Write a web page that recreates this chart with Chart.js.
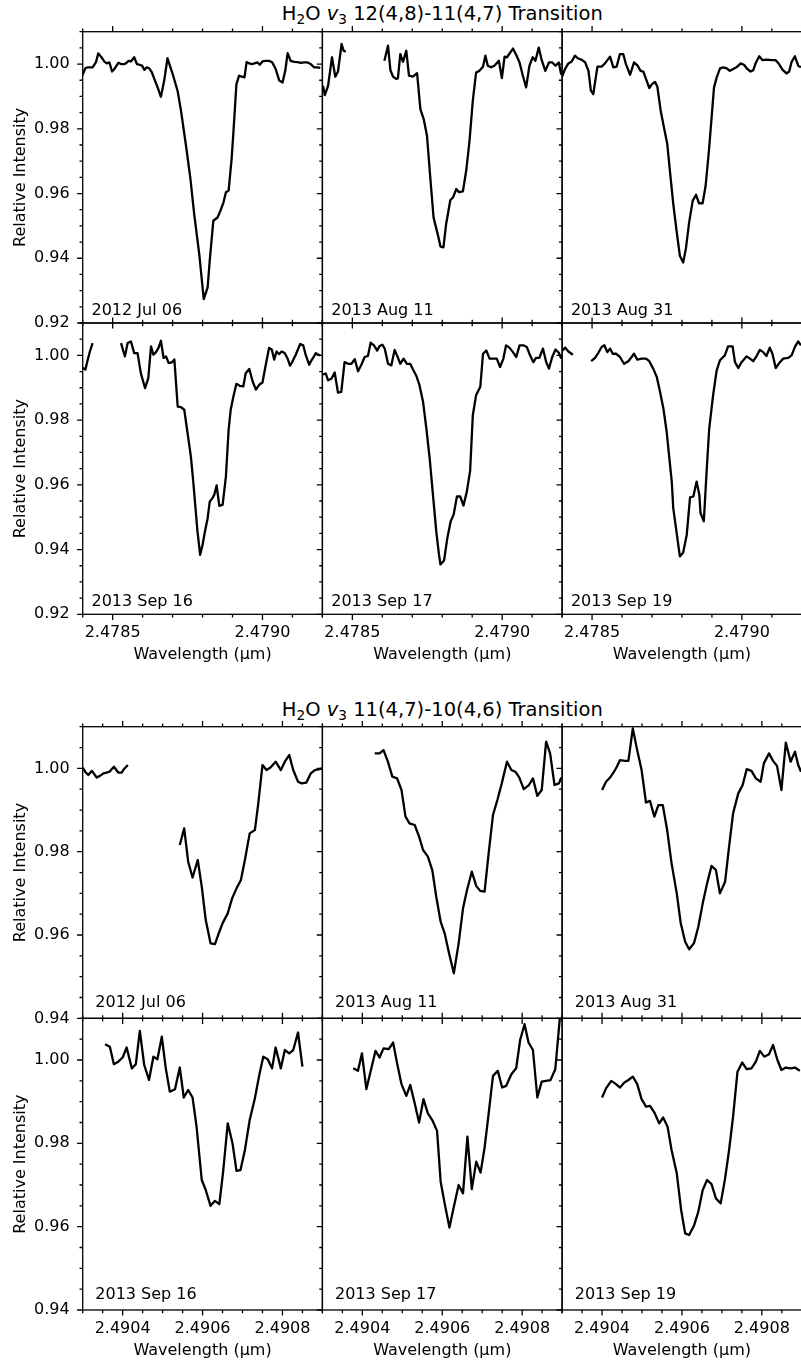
<!DOCTYPE html>
<html><head><meta charset="utf-8">
<script src="https://cdn.jsdelivr.net/npm/chart.js@4.4.0/dist/chart.umd.min.js"></script>
<style>
html,body{margin:0;padding:0;background:#fff;}
#wrap{position:relative;width:801px;height:1362px;overflow:hidden;background:#fff;}
#wrap canvas{position:absolute;}
.ttl{position:absolute;left:442.3px;transform:translateX(-50%);font-family:'DejaVu Sans';font-size:19.5px;line-height:19.5px;color:#000;white-space:nowrap;}
.ttl sub{font-size:70%;line-height:0;vertical-align:-0.3em;}
</style></head><body><div id="wrap">
<div class="ttl" style="top:4.2px">H<sub>2</sub>O <i>v</i><sub>3</sub> 12(4,8)-11(4,7) Transition</div>
<div class="ttl" style="top:699.5px">H<sub>2</sub>O <i>v</i><sub>3</sub> 11(4,7)-10(4,6) Transition</div>
</div>
<script>
// ---------------- DATA: [wavelength (µm), relative intensity] ----------------
const dates = ['2012 Jul 06','2013 Aug 11','2013 Aug 31','2013 Sep 16','2013 Sep 17','2013 Sep 19'];

// H2O v3 12(4,8)-11(4,7)
const t1 = [[2.478398,0.9964],[2.478409,0.9987],[2.478417,0.9990],[2.478433,0.9990],[2.478444,1.0005],[2.478452,1.0033],[2.478461,1.0023],[2.478472,1.0008],[2.478480,1.0002],[2.478489,1.0005],[2.478498,0.9977],[2.478506,0.9985],[2.478519,1.0004],[2.478528,1.0000],[2.478539,1.0000],[2.478544,1.0002],[2.478553,1.0010],[2.478561,1.0008],[2.478572,1.0021],[2.478581,1.0000],[2.478589,0.9998],[2.478598,0.9995],[2.478606,0.9982],[2.478614,0.9990],[2.478622,0.9987],[2.478631,0.9974],[2.478639,0.9954],[2.478650,0.9928],[2.478661,0.9899],[2.478672,0.9949],[2.478683,1.0018],[2.478691,0.9995],[2.478702,0.9964],[2.478717,0.9916],[2.478728,0.9856],[2.478744,0.9753],[2.478759,0.9650],[2.478772,0.9537],[2.478789,0.9413],[2.478804,0.9274],[2.478817,0.9310],[2.478824,0.9393],[2.478836,0.9516],[2.478850,0.9526],[2.478861,0.9550],[2.478870,0.9573],[2.478878,0.9604],[2.478887,0.9609],[2.478897,0.9707],[2.478903,0.9789],[2.478913,0.9938],[2.478922,0.9964],[2.478931,0.9961],[2.478940,0.9959],[2.478947,1.0006],[2.478956,1.0002],[2.478964,1.0000],[2.478973,1.0002],[2.478983,1.0005],[2.478991,0.9998],[2.479000,1.0008],[2.479011,1.0010],[2.479022,1.0010],[2.479033,1.0005],[2.479044,0.9985],[2.479056,0.9949],[2.479067,0.9943],[2.479076,0.9979],[2.479084,1.0034],[2.479094,1.0010],[2.479106,1.0007],[2.479117,1.0006],[2.479128,1.0004],[2.479139,1.0005],[2.479150,1.0005],[2.479161,1.0000],[2.479172,0.9990],[2.479183,0.9990],[2.479193,0.9988]];
const t2a = [[2.478402,0.9933],[2.478408,0.9904],[2.478419,0.9933],[2.478432,1.0021],[2.478443,0.9961],[2.478452,0.9977],[2.478464,1.0062],[2.478471,1.0041],[2.478478,1.0038]];
const t2b = [[2.478607,1.0010],[2.478619,1.0057],[2.478627,0.9981],[2.478636,0.9961],[2.478647,0.9954],[2.478652,0.9956],[2.478660,1.0031],[2.478669,1.0007],[2.478680,1.0041],[2.478689,0.9964],[2.478702,0.9961],[2.478716,0.9972],[2.478727,0.9861],[2.478738,0.9830],[2.478749,0.9779],[2.478760,0.9650],[2.478771,0.9526],[2.478786,0.9470],[2.478794,0.9436],[2.478804,0.9434],[2.478813,0.9506],[2.478827,0.9580],[2.478836,0.9588],[2.478847,0.9614],[2.478856,0.9604],[2.478869,0.9607],[2.478880,0.9671],[2.478891,0.9763],[2.478902,0.9887],[2.478913,0.9974],[2.478924,0.9979],[2.478936,0.9992],[2.478944,1.0026],[2.478952,0.9995],[2.478963,0.9990],[2.478974,0.9995],[2.478989,1.0010],[2.478999,0.9957],[2.479008,1.0023],[2.479016,1.0021],[2.479036,1.0048],[2.479047,1.0028],[2.479058,1.0005],[2.479069,0.9964],[2.479080,0.9928],[2.479091,0.9995],[2.479102,1.0021],[2.479111,1.0010],[2.479122,1.0051],[2.479132,1.0012],[2.479144,0.9979],[2.479156,1.0005],[2.479167,1.0005],[2.479178,0.9995],[2.479189,1.0005],[2.479197,0.9967]];
const t3 = [[2.478400,0.9961],[2.478410,0.9985],[2.478421,1.0002],[2.478432,1.0008],[2.478443,1.0026],[2.478452,1.0018],[2.478466,1.0013],[2.478477,1.0005],[2.478488,0.9979],[2.478496,0.9918],[2.478504,0.9907],[2.478518,0.9992],[2.478532,0.9992],[2.478543,1.0002],[2.478560,1.0023],[2.478571,0.9990],[2.478582,0.9992],[2.478593,1.0031],[2.478604,1.0031],[2.478613,1.0000],[2.478627,0.9967],[2.478640,1.0005],[2.478652,0.9995],[2.478662,0.9979],[2.478671,0.9977],[2.478680,0.9954],[2.478691,0.9926],[2.478700,0.9938],[2.478710,0.9945],[2.478718,0.9930],[2.478729,0.9856],[2.478740,0.9804],[2.478751,0.9753],[2.478762,0.9650],[2.478771,0.9568],[2.478782,0.9485],[2.478793,0.9408],[2.478804,0.9387],[2.478813,0.9429],[2.478824,0.9511],[2.478836,0.9578],[2.478847,0.9596],[2.478857,0.9570],[2.478869,0.9570],[2.478879,0.9624],[2.478890,0.9732],[2.478899,0.9835],[2.478907,0.9928],[2.478916,0.9959],[2.478927,0.9987],[2.478938,0.9990],[2.478949,0.9987],[2.478960,0.9979],[2.478971,0.9985],[2.478982,0.9990],[2.478996,1.0002],[2.479007,0.9998],[2.479018,0.9985],[2.479029,0.9977],[2.479038,0.9981],[2.479047,1.0005],[2.479058,1.0024],[2.479069,1.0012],[2.479082,1.0014],[2.479099,1.0012],[2.479113,1.0012],[2.479124,1.0000],[2.479136,0.9982],[2.479149,0.9971],[2.479158,0.9977],[2.479166,1.0007],[2.479177,1.0024],[2.479188,0.9995],[2.479197,0.9990]];
const t4a = [[2.478400,0.9961],[2.478409,0.9956],[2.478417,0.9987],[2.478424,1.0012],[2.478433,1.0038]];
const t4b = [[2.478528,1.0038],[2.478536,1.0012],[2.478541,0.9997],[2.478550,1.0038],[2.478561,1.0043],[2.478572,1.0007],[2.478583,1.0007],[2.478594,0.9945],[2.478608,0.9899],[2.478619,0.9930],[2.478628,1.0028],[2.478636,1.0002],[2.478644,1.0009],[2.478653,1.0023],[2.478661,1.0045],[2.478670,0.9992],[2.478678,0.9997],[2.478687,0.9976],[2.478697,0.9978],[2.478706,0.9987],[2.478717,0.9842],[2.478728,0.9840],[2.478739,0.9832],[2.478750,0.9760],[2.478761,0.9688],[2.478769,0.9610],[2.478776,0.9533],[2.478783,0.9456],[2.478792,0.9384],[2.478800,0.9414],[2.478808,0.9456],[2.478817,0.9497],[2.478824,0.9548],[2.478833,0.9559],[2.478839,0.9569],[2.478847,0.9598],[2.478856,0.9535],[2.478867,0.9538],[2.478878,0.9626],[2.478887,0.9770],[2.478894,0.9832],[2.478903,0.9873],[2.478913,0.9912],[2.478924,0.9906],[2.478936,0.9904],[2.478944,0.9945],[2.478956,0.9958],[2.478967,0.9920],[2.478978,0.9894],[2.478989,0.9909],[2.479000,0.9916],[2.479011,0.9971],[2.479022,1.0023],[2.479031,1.0018],[2.479039,0.9987],[2.479047,1.0012],[2.479056,1.0004],[2.479064,1.0012],[2.479074,1.0007],[2.479083,0.9992],[2.479092,0.9968],[2.479100,0.9981],[2.479111,1.0002],[2.479126,1.0035],[2.479136,1.0031],[2.479144,1.0002],[2.479156,0.9971],[2.479163,0.9984],[2.479172,0.9997],[2.479178,1.0007],[2.479186,1.0002],[2.479193,1.0000]];
const t5 = [[2.478402,0.9941],[2.478411,0.9944],[2.478419,0.9923],[2.478430,0.9928],[2.478441,0.9947],[2.478452,0.9885],[2.478463,0.9887],[2.478474,0.9979],[2.478486,0.9974],[2.478497,0.9974],[2.478508,0.9988],[2.478519,0.9951],[2.478530,0.9971],[2.478541,0.9995],[2.478552,0.9998],[2.478561,1.0039],[2.478572,1.0031],[2.478583,1.0015],[2.478591,1.0029],[2.478600,1.0033],[2.478608,1.0021],[2.478619,0.9974],[2.478630,0.9969],[2.478641,1.0017],[2.478649,1.0000],[2.478660,0.9974],[2.478671,0.9990],[2.478682,0.9974],[2.478693,0.9974],[2.478702,0.9957],[2.478713,0.9938],[2.478724,0.9908],[2.478736,0.9856],[2.478747,0.9774],[2.478758,0.9682],[2.478769,0.9569],[2.478780,0.9456],[2.478789,0.9385],[2.478794,0.9354],[2.478806,0.9366],[2.478817,0.9436],[2.478828,0.9487],[2.478838,0.9508],[2.478849,0.9564],[2.478860,0.9564],[2.478871,0.9536],[2.478882,0.9579],[2.478893,0.9643],[2.478902,0.9815],[2.478913,0.9877],[2.478927,0.9903],[2.478936,1.0005],[2.478947,1.0015],[2.478958,0.9990],[2.478971,0.9990],[2.478982,0.9990],[2.478993,0.9964],[2.479004,0.9990],[2.479013,1.0031],[2.479024,1.0024],[2.479036,1.0010],[2.479047,0.9995],[2.479058,1.0031],[2.479071,1.0031],[2.479082,1.0026],[2.479093,1.0000],[2.479104,0.9979],[2.479113,0.9992],[2.479124,0.9992],[2.479136,1.0021],[2.479147,0.9979],[2.479156,0.9959],[2.479167,0.9995],[2.479178,1.0018],[2.479189,1.0008],[2.479197,0.9990]];
const t6a = [[2.478402,1.0015],[2.478410,1.0024],[2.478421,1.0012],[2.478436,1.0002]];
const t6b = [[2.478497,0.9982],[2.478510,0.9992],[2.478521,1.0008],[2.478532,1.0026],[2.478541,1.0031],[2.478551,1.0010],[2.478560,1.0021],[2.478569,1.0005],[2.478580,1.0005],[2.478593,0.9995],[2.478607,0.9974],[2.478621,0.9982],[2.478632,0.9995],[2.478640,1.0005],[2.478651,0.9987],[2.478666,0.9990],[2.478680,0.9990],[2.478691,0.9982],[2.478704,0.9959],[2.478716,0.9933],[2.478727,0.9887],[2.478738,0.9836],[2.478749,0.9764],[2.478758,0.9682],[2.478766,0.9610],[2.478771,0.9528],[2.478780,0.9467],[2.478793,0.9379],[2.478804,0.9390],[2.478816,0.9446],[2.478827,0.9561],[2.478838,0.9564],[2.478849,0.9610],[2.478858,0.9569],[2.478862,0.9513],[2.478873,0.9487],[2.478882,0.9636],[2.478891,0.9774],[2.478904,0.9877],[2.478916,0.9954],[2.478927,0.9985],[2.478943,1.0000],[2.478954,1.0028],[2.478969,1.0028],[2.478977,0.9979],[2.478988,0.9961],[2.478999,0.9979],[2.479016,0.9997],[2.479027,0.9990],[2.479038,0.9982],[2.479049,0.9998],[2.479060,1.0017],[2.479071,1.0010],[2.479082,0.9998],[2.479093,1.0024],[2.479102,1.0005],[2.479113,0.9961],[2.479127,0.9979],[2.479138,0.9990],[2.479154,0.9992],[2.479166,1.0000],[2.479177,1.0026],[2.479188,1.0043],[2.479197,1.0031]];

// H2O v3 11(4,7)-10(4,6)
const b1a = [[2.490300,1.0002],[2.490306,0.9992],[2.490314,0.9984],[2.490323,0.9994],[2.490335,0.9978],[2.490343,0.9982],[2.490352,0.9988],[2.490360,0.9990],[2.490367,0.9992],[2.490378,1.0004],[2.490389,0.9990],[2.490398,0.9990],[2.490403,0.9998],[2.490413,1.0008]];
const b1b = [[2.490543,0.9816],[2.490554,0.9856],[2.490564,0.9776],[2.490575,0.9738],[2.490588,0.9780],[2.490598,0.9716],[2.490608,0.9636],[2.490620,0.9580],[2.490631,0.9578],[2.490639,0.9600],[2.490650,0.9628],[2.490663,0.9652],[2.490674,0.9688],[2.490685,0.9712],[2.490696,0.9732],[2.490706,0.9780],[2.490718,0.9844],[2.490731,0.9852],[2.490739,0.9912],[2.490750,1.0008],[2.490760,0.9996],[2.490770,1.0002],[2.490783,1.0016],[2.490796,0.9996],[2.490806,1.0016],[2.490817,1.0032],[2.490827,0.9996],[2.490839,0.9968],[2.490848,0.9964],[2.490860,0.9966],[2.490871,0.9988],[2.490881,0.9996],[2.490893,0.9998],[2.490899,1.0000]];
const b2 = [[2.490431,1.0036],[2.490443,1.0036],[2.490453,1.0044],[2.490464,1.0016],[2.490475,0.9980],[2.490487,0.9976],[2.490498,0.9948],[2.490508,0.9884],[2.490518,0.9868],[2.490531,0.9864],[2.490542,0.9836],[2.490552,0.9804],[2.490564,0.9788],[2.490575,0.9756],[2.490585,0.9692],[2.490596,0.9632],[2.490606,0.9604],[2.490617,0.9556],[2.490629,0.9508],[2.490641,0.9580],[2.490652,0.9664],[2.490662,0.9708],[2.490674,0.9752],[2.490685,0.9718],[2.490695,0.9706],[2.490706,0.9704],[2.490717,0.9804],[2.490727,0.9888],[2.490738,0.9924],[2.490749,0.9964],[2.490762,1.0016],[2.490773,0.9996],[2.490783,0.9992],[2.490793,0.9978],[2.490804,0.9950],[2.490817,0.9960],[2.490827,0.9976],[2.490838,0.9934],[2.490849,0.9948],[2.490860,1.0064],[2.490870,1.0036],[2.490881,0.9960],[2.490892,0.9964],[2.490898,0.9978]];
const b3 = [[2.490400,0.9948],[2.490410,0.9968],[2.490420,0.9978],[2.490430,0.9992],[2.490437,1.0004],[2.490445,1.0020],[2.490458,1.0018],[2.490466,1.0018],[2.490477,1.0096],[2.490487,1.0048],[2.490499,0.9996],[2.490510,0.9918],[2.490520,0.9922],[2.490531,0.9884],[2.490541,0.9912],[2.490552,0.9912],[2.490563,0.9852],[2.490574,0.9772],[2.490587,0.9700],[2.490597,0.9628],[2.490608,0.9584],[2.490618,0.9566],[2.490630,0.9580],[2.490641,0.9620],[2.490652,0.9676],[2.490663,0.9724],[2.490674,0.9766],[2.490685,0.9756],[2.490695,0.9700],[2.490708,0.9728],[2.490718,0.9812],[2.490728,0.9892],[2.490741,0.9940],[2.490752,0.9960],[2.490762,0.9998],[2.490774,0.9994],[2.490785,0.9976],[2.490797,0.9968],[2.490805,1.0012],[2.490818,1.0036],[2.490828,1.0018],[2.490838,1.0006],[2.490849,0.9948],[2.490860,1.0062],[2.490872,1.0016],[2.490883,1.0040],[2.490891,1.0008],[2.490898,0.9992]];
const b4 = [[2.490356,1.0038],[2.490368,1.0032],[2.490378,0.9990],[2.490389,0.9996],[2.490400,1.0006],[2.490410,1.0030],[2.490423,0.9980],[2.490433,0.9990],[2.490443,1.0070],[2.490454,0.9988],[2.490466,0.9952],[2.490477,1.0008],[2.490487,1.0002],[2.490498,1.0056],[2.490508,0.9980],[2.490518,0.9924],[2.490531,0.9930],[2.490543,0.9982],[2.490553,0.9910],[2.490564,0.9928],[2.490575,0.9910],[2.490585,0.9840],[2.490598,0.9712],[2.490608,0.9688],[2.490620,0.9650],[2.490631,0.9662],[2.490642,0.9654],[2.490652,0.9736],[2.490663,0.9848],[2.490675,0.9800],[2.490685,0.9734],[2.490695,0.9736],[2.490706,0.9784],[2.490718,0.9856],[2.490731,0.9908],[2.490742,0.9964],[2.490752,1.0008],[2.490763,1.0002],[2.490774,0.9980],[2.490783,1.0030],[2.490796,0.9980],[2.490806,1.0024],[2.490817,1.0016],[2.490827,1.0024],[2.490839,1.0066],[2.490850,0.9984]];
const b5 = [[2.490377,0.9980],[2.490389,0.9974],[2.490399,1.0016],[2.490410,0.9930],[2.490421,0.9974],[2.490433,1.0022],[2.490443,1.0006],[2.490453,1.0028],[2.490466,1.0026],[2.490477,1.0042],[2.490487,0.9992],[2.490498,0.9942],[2.490510,0.9914],[2.490520,0.9940],[2.490531,0.9896],[2.490542,0.9850],[2.490553,0.9906],[2.490564,0.9872],[2.490575,0.9856],[2.490587,0.9830],[2.490596,0.9708],[2.490606,0.9656],[2.490618,0.9598],[2.490629,0.9648],[2.490641,0.9700],[2.490652,0.9680],[2.490663,0.9816],[2.490674,0.9690],[2.490685,0.9756],[2.490696,0.9730],[2.490706,0.9790],[2.490716,0.9870],[2.490727,0.9962],[2.490739,0.9974],[2.490750,0.9934],[2.490760,0.9938],[2.490773,0.9966],[2.490785,0.9980],[2.490795,1.0048],[2.490806,1.0086],[2.490816,1.0042],[2.490827,1.0024],[2.490838,0.9910],[2.490849,0.9948],[2.490860,0.9950],[2.490871,0.9952],[2.490883,0.9978],[2.490895,1.0108]];
const b6 = [[2.490400,0.9910],[2.490410,0.9932],[2.490423,0.9950],[2.490435,0.9942],[2.490445,0.9934],[2.490456,0.9946],[2.490466,0.9952],[2.490477,0.9960],[2.490488,0.9942],[2.490499,0.9906],[2.490510,0.9888],[2.490520,0.9890],[2.490531,0.9874],[2.490543,0.9848],[2.490553,0.9862],[2.490564,0.9840],[2.490574,0.9784],[2.490587,0.9728],[2.490598,0.9640],[2.490608,0.9584],[2.490618,0.9580],[2.490630,0.9602],[2.490641,0.9636],[2.490652,0.9688],[2.490663,0.9712],[2.490674,0.9702],[2.490685,0.9668],[2.490697,0.9656],[2.490708,0.9716],[2.490718,0.9784],[2.490728,0.9864],[2.490739,0.9972],[2.490751,0.9994],[2.490762,0.9978],[2.490774,0.9980],[2.490785,0.9996],[2.490795,1.0022],[2.490806,1.0008],[2.490818,1.0014],[2.490828,1.0036],[2.490839,1.0000],[2.490849,0.9976],[2.490860,0.9982],[2.490872,0.9980],[2.490883,0.9982],[2.490895,0.9974]];

const topSeries = [[t1],[t2a,t2b],[t3],[t4a,t4b],[t5],[t6a,t6b]];
const botSeries = [[b1a,b1b],[b2],[b3],[b4],[b5],[b6]];

// axis ranges & tick values
const topX = [2.4784, 2.4792], topY = [0.92, 1.01];
const botX = [2.4903, 2.4909], botY = [0.94, 1.01];
const topXMajor = [2.4785, 2.4790];
const topXMinor = [2.4784, 2.4786, 2.4787, 2.4788, 2.4789, 2.4791, 2.4792];
const topYMajor = [0.92, 0.94, 0.96, 0.98, 1.00];
const topYMinor = [0.925, 0.93, 0.935, 0.945, 0.95, 0.955, 0.965, 0.97, 0.975, 0.985, 0.99, 0.995, 1.005, 1.01];
const botXMajor = [2.4904, 2.4906, 2.4908];
const botXMinor = [2.4903, 2.49035, 2.49045, 2.4905, 2.49055, 2.49065, 2.4907, 2.49075, 2.49085, 2.4909];
const botYMajor = [0.94, 0.96, 0.98, 1.00];
const botYMinor = [0.945, 0.95, 0.955, 0.965, 0.97, 0.975, 0.985, 0.99, 0.995, 1.005, 1.01];

// ---------------- LAYOUT ----------------
const colLeft = [82.7, 322.4, 562.1];
const plotW = 239.7;
const FONT = 'DejaVu Sans';

const decor = {
  id: 'decor',
  afterDraw(chart, args, o) {
    const {ctx, chartArea: a} = chart;
    const x = chart.scales.x, y = chart.scales.y;
    ctx.save();
    ctx.strokeStyle = '#000';
    ctx.lineWidth = 1.3;
    ctx.beginPath();
    const xt = (vals, len) => vals.forEach(v => {
      const p = x.getPixelForValue(v);
      ctx.moveTo(p, a.bottom); ctx.lineTo(p, a.bottom + len);
      ctx.moveTo(p, a.top); ctx.lineTo(p, a.top - len);
    });
    const yt = (vals, len) => vals.forEach(v => {
      const p = y.getPixelForValue(v);
      ctx.moveTo(a.left, p); ctx.lineTo(a.left - len, p);
    });
    xt(o.xMinor, 3.2); xt(o.xMajor, 5.6);
    yt(o.yMinor, 3.2); yt(o.yMajor, 5.6);
    ctx.stroke();
    ctx.strokeRect(a.left, a.top, a.right - a.left, a.bottom - a.top);
    ctx.fillStyle = '#000';
    ctx.font = '16px "' + FONT + '"';
    ctx.textAlign = 'left';
    ctx.textBaseline = 'alphabetic';
    ctx.fillText(o.label, a.left + o.dx, a.bottom - o.dy);
    ctx.restore();
  }
};

function makePanel(p) {
  const showY = p.col === 0;
  const showX = p.bottom;
  const canvasLeft = showY ? 0 : Math.floor(p.left - 8);
  const yw = p.left - canvasLeft;
  const W = Math.ceil(yw + plotW + 6);
  const padR = W - yw - plotW;
  const canvasTop = Math.floor(p.top - 10);
  const padT = p.top - canvasTop;
  const xh = showX ? 52 : 14;
  const H = Math.ceil(padT + p.h + xh);
  const padB = H - (padT + p.h + xh);
  const cv = document.createElement('canvas');
  cv.width = W; cv.height = H;
  cv.style.left = canvasLeft + 'px';
  cv.style.top = canvasTop + 'px';
  document.getElementById('wrap').appendChild(cv);
  const font = {family: FONT, size: 16};
  new Chart(cv, {
    type: 'line',
    data: {
      datasets: p.segments.map(seg => ({
        data: seg.map(d => ({x: d[0], y: d[1]})),
        borderColor: '#000', borderWidth: 2.3, pointRadius: 0,
        tension: 0, fill: false, borderJoinStyle: 'round', borderCapStyle: 'butt'
      }))
    },
    options: {
      responsive: false, animation: false, events: [],
      layout: {padding: {left: 0, right: padR, top: padT, bottom: padB}},
      plugins: {legend: {display: false}, tooltip: {enabled: false},
        decor: {label: p.label, dx: p.dx, dy: p.dy, xMajor: p.xMajor, xMinor: p.xMinor, yMajor: p.yMajor, yMinor: p.yMinor}},
      scales: {
        x: {
          type: 'linear', position: 'bottom', min: p.xr[0], max: p.xr[1],
          grid: {display: false, drawTicks: false}, border: {display: false},
          ticks: {display: showX, autoSkip: false, maxRotation: 0, padding: 9, color: '#000', font,
                  callback: v => Number(v).toFixed(4)},
          title: {display: showX, text: 'Wavelength (μm)', color: '#000', font, padding: {top: 0, bottom: 2}},
          afterBuildTicks: s => { s.ticks = p.xMajor.map(v => ({value: v})); },
          afterFit: s => { s.height = xh; s.paddingLeft = 0; s.paddingRight = 0; }
        },
        y: {
          type: 'linear', position: 'left', min: p.yr[0], max: p.yr[1],
          grid: {display: false, drawTicks: false}, border: {display: false},
          ticks: {display: showY, autoSkip: false, padding: 13, color: '#000', font,
                  callback: v => Number(v).toFixed(2)},
          title: {display: showY, text: 'Relative Intensity', color: '#000', font, padding: {top: 11, bottom: 0}},
          afterBuildTicks: s => { s.ticks = p.yMajor.map(v => ({value: v})); },
          afterFit: s => { s.width = yw; s.paddingTop = 0; s.paddingBottom = 0; }
        }
      }
    },
    plugins: [decor]
  });
}

const figs = [
  {series: topSeries, rowTop: [31.7, 323.0], h: 291.3, xr: topX, yr: topY,
   xMajor: topXMajor, xMinor: topXMinor, yMajor: topYMajor, yMinor: topYMinor, dx: 8.8, dy: 8.5},
  {series: botSeries, rowTop: [726.7, 1018.35], h: 291.65, xr: botX, yr: botY,
   xMajor: botXMajor, xMinor: botXMinor, yMajor: botYMajor, yMinor: botYMinor, dx: 12.6, dy: 11}
];
figs.forEach(f => {
  for (let i = 0; i < 6; i++) {
    const row = Math.floor(i / 3), col = i % 3;
    makePanel({
      col, bottom: row === 1, left: colLeft[col], top: f.rowTop[row], h: f.h,
      segments: f.series[i], label: dates[i], xr: f.xr, yr: f.yr,
      xMajor: f.xMajor, xMinor: f.xMinor, yMajor: f.yMajor, yMinor: f.yMinor, dx: f.dx, dy: f.dy
    });
  }
});
</script></body></html>
